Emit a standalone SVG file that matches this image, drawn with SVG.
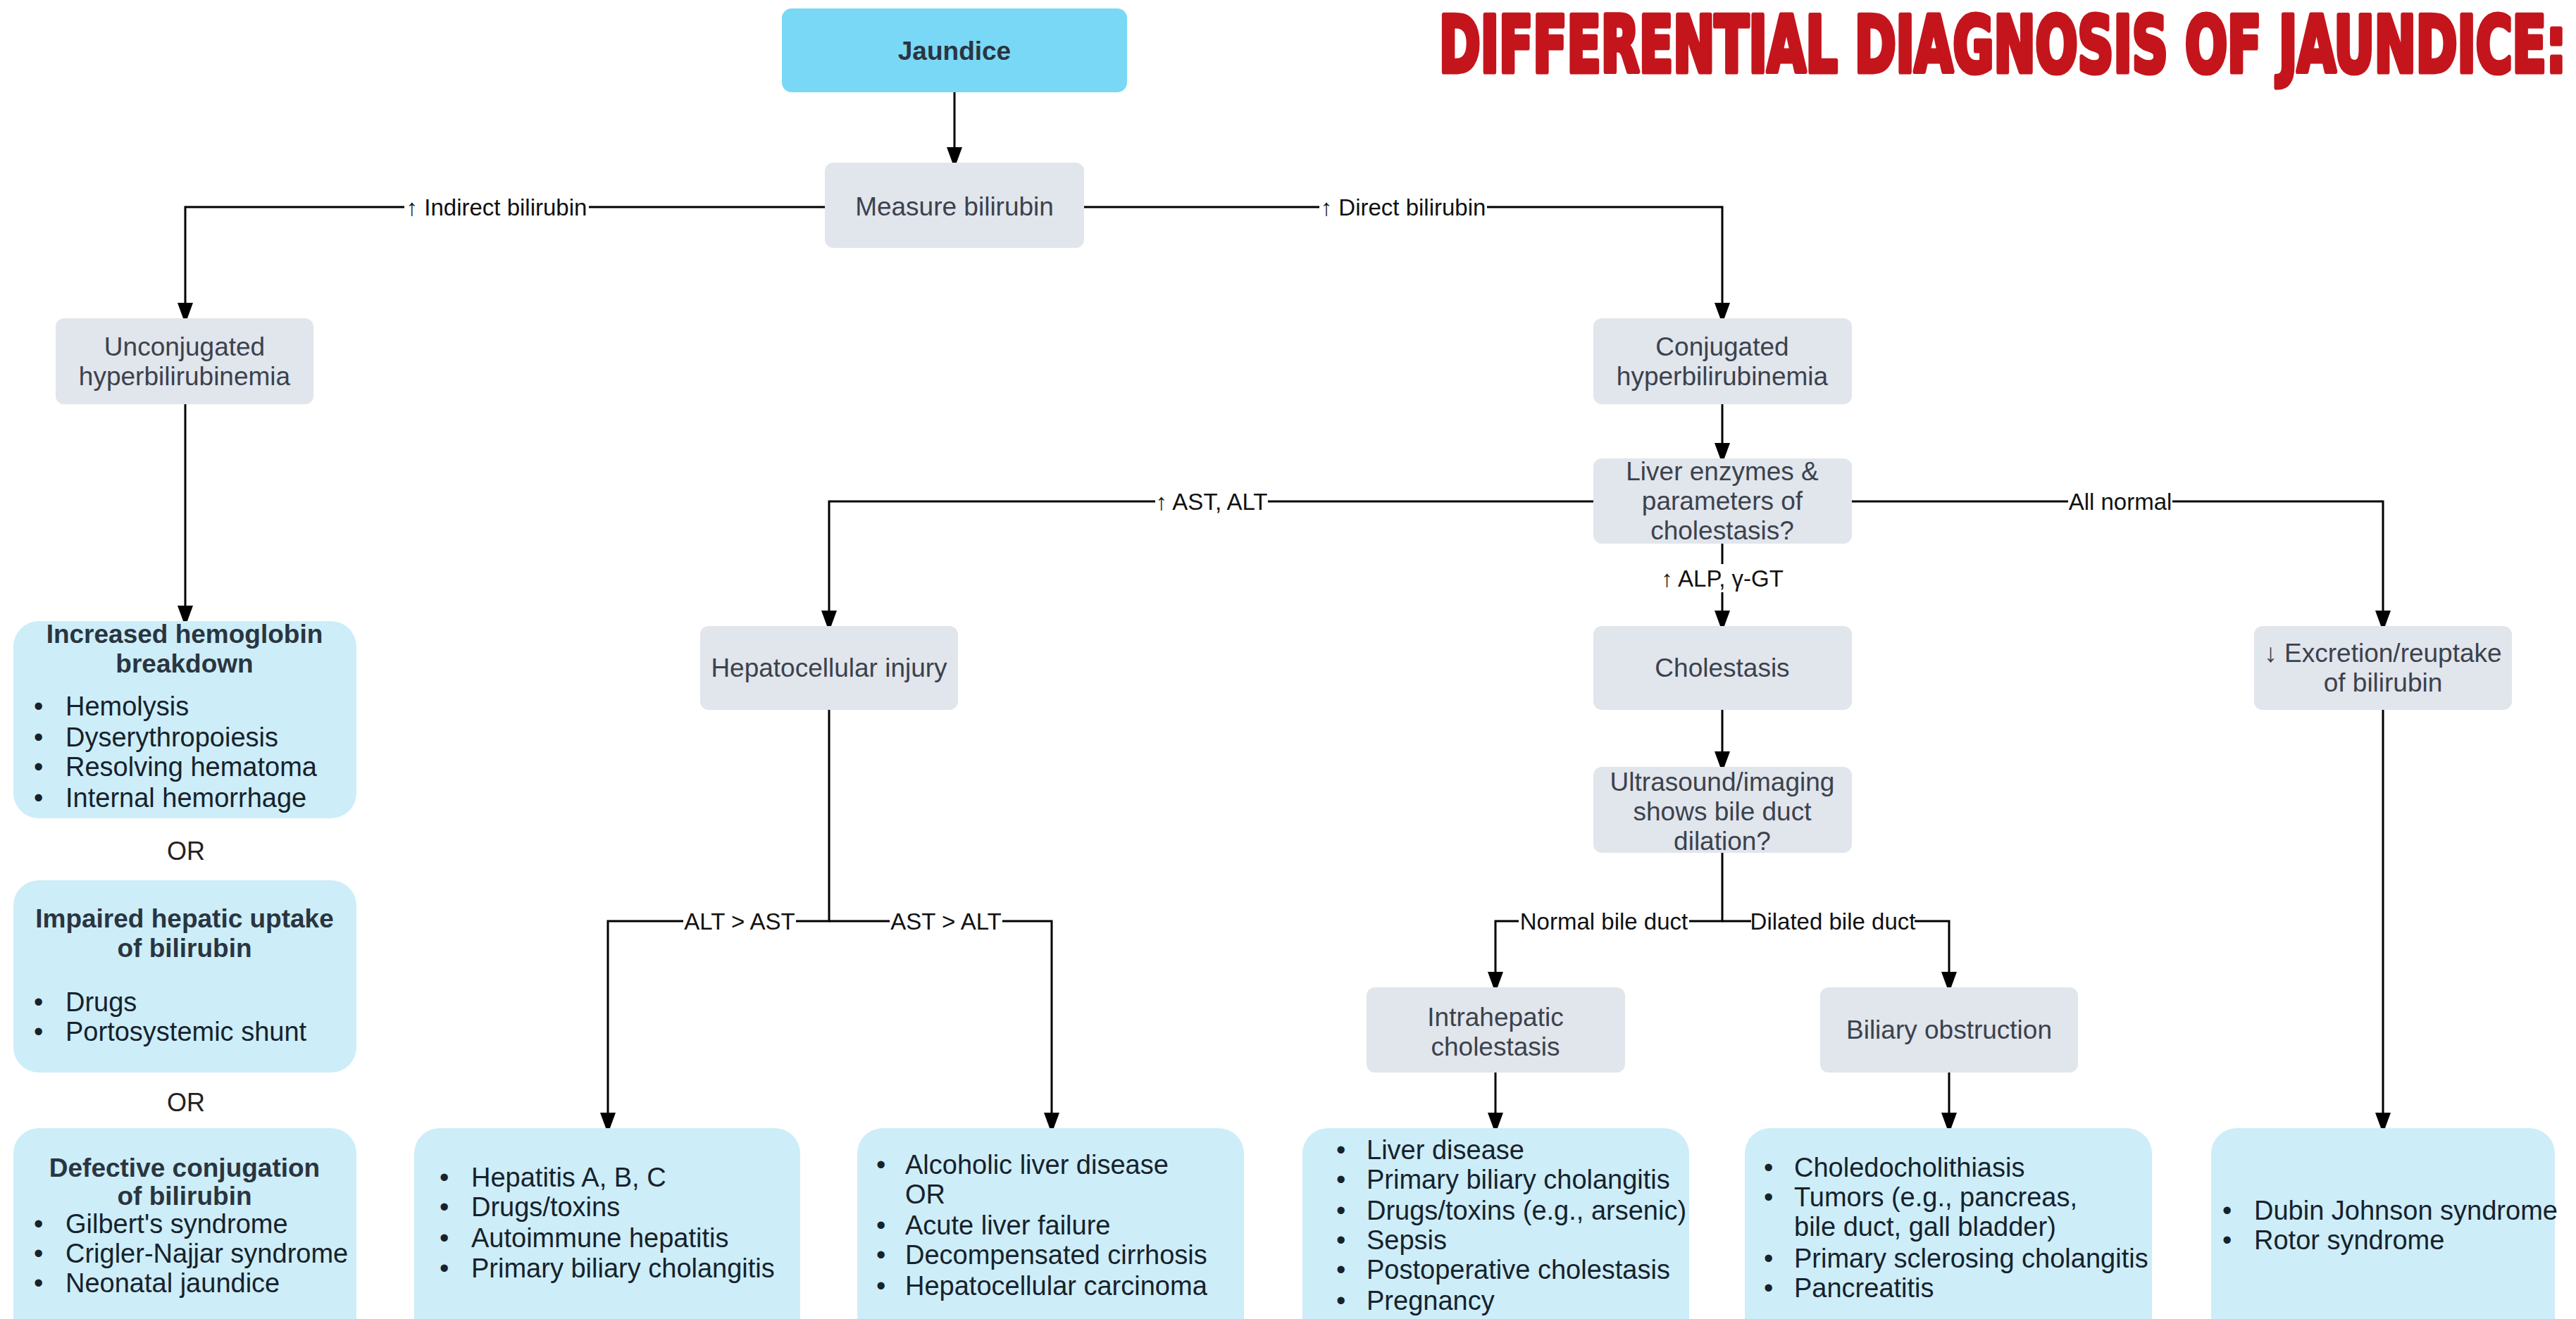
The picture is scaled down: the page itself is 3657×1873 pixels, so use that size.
<svg xmlns="http://www.w3.org/2000/svg" width="3657" height="1873" viewBox="0 0 3657 1873">
<defs>
<marker id="arr" viewBox="0 0 22 30" refX="22" refY="11" markerWidth="22" markerHeight="30" markerUnits="userSpaceOnUse" orient="auto">
<path d="M0,0 L30,11 L0,22 Z" fill="#000"/>
</marker>
<style>
.gray{fill:#E1E5EC}
.cyan{fill:#79D8F5}
.lb{fill:#CDEDF8}
.t{font-family:"Liberation Sans",Arial,sans-serif;font-size:37px;fill:#3B424C;text-anchor:middle}
.tb{font-family:"Liberation Sans",Arial,sans-serif;font-size:37px;font-weight:bold;fill:#2A3540;text-anchor:middle}
.li{font-family:"Liberation Sans",Arial,sans-serif;font-size:38px;fill:#16222C}
.lbl{font-family:"Liberation Sans",Arial,sans-serif;font-size:33px;fill:#111;text-anchor:middle}
.or{font-family:"Liberation Sans",Arial,sans-serif;font-size:36px;fill:#222;text-anchor:middle}
.ln{fill:none;stroke:#000;stroke-width:3}
.bg{fill:#fff}
</style>
</defs>
<rect width="3657" height="1873" fill="#fff"/>
<text transform="translate(2043,102) scale(1,1.444)" x="0" y="0" textLength="1600" lengthAdjust="spacingAndGlyphs" font-family="'DejaVu Sans Condensed','DejaVu Sans',sans-serif" font-weight="bold" font-size="76" fill="#C4151C" stroke="#C4151C" stroke-width="5" stroke-linejoin="round">DIFFERENTIAL DIAGNOSIS OF JAUNDICE:</text>

<g id="connectors">
<path class="ln" d="M1355 131 V231" marker-end="url(#arr)"/>
<path class="ln" d="M1171 294 H263 V452" marker-end="url(#arr)"/>
<path class="ln" d="M1539 294 H2445 V452" marker-end="url(#arr)"/>
<path class="ln" d="M263 574 V882" marker-end="url(#arr)"/>
<path class="ln" d="M2445 574 V651" marker-end="url(#arr)"/>
<path class="ln" d="M2262 712 H1177 V889" marker-end="url(#arr)"/>
<path class="ln" d="M2629 712 H3383 V889" marker-end="url(#arr)"/>
<path class="ln" d="M2445 772 V889" marker-end="url(#arr)"/>
<path class="ln" d="M2445 1008 V1089" marker-end="url(#arr)"/>
<path class="ln" d="M2445 1211 V1308 H2123 V1402" marker-end="url(#arr)"/>
<path class="ln" d="M2445 1308 H2767 V1402" marker-end="url(#arr)"/>
<path class="ln" d="M1177 1008 V1308 H863 V1602" marker-end="url(#arr)"/>
<path class="ln" d="M1177 1308 H1493 V1602" marker-end="url(#arr)"/>
<path class="ln" d="M2123 1523 V1602" marker-end="url(#arr)"/>
<path class="ln" d="M2767 1523 V1602" marker-end="url(#arr)"/>
<path class="ln" d="M3383 1008 V1602" marker-end="url(#arr)"/>
<rect class="bg" x="574" y="276" width="262" height="36"/>
<text class="lbl" x="705" y="306">↑ Indirect bilirubin</text>
<rect class="bg" x="1873" y="276" width="238" height="36"/>
<text class="lbl" x="1992" y="306">↑ Direct bilirubin</text>
<rect class="bg" x="1640" y="694" width="160" height="36"/>
<text class="lbl" x="1720" y="724">↑ AST, ALT</text>
<rect class="bg" x="2936" y="694" width="148" height="36"/>
<text class="lbl" x="3010" y="724">All normal</text>
<rect class="bg" x="2352" y="801" width="186" height="40"/>
<text class="lbl" x="2445" y="833">↑ ALP, γ-GT</text>
<rect class="bg" x="970" y="1290" width="160" height="36"/>
<text class="lbl" x="1050" y="1320">ALT &gt; AST</text>
<rect class="bg" x="1263" y="1290" width="160" height="36"/>
<text class="lbl" x="1343" y="1320">AST &gt; ALT</text>
<rect class="bg" x="2156" y="1290" width="242" height="36"/>
<text class="lbl" x="2277" y="1320">Normal bile duct</text>
<rect class="bg" x="2486" y="1290" width="232" height="36"/>
<text class="lbl" x="2602" y="1320">Dilated bile duct</text>
</g>

<g id="jaundice"><rect class="cyan" x="1110" y="12" width="490" height="119" rx="14"/><text class="tb" x="1355" y="85">Jaundice</text></g>
<g id="measure"><rect class="gray" x="1171" y="231" width="368" height="121" rx="12"/><text class="t" x="1355" y="306">Measure bilirubin</text></g>
<g id="unconjugated"><rect class="gray" x="79" y="452" width="366" height="122" rx="12"/><text class="t" x="262" y="505">Unconjugated</text><text class="t" x="262" y="547">hyperbilirubinemia</text></g>
<g id="conjugated"><rect class="gray" x="2262" y="452" width="367" height="122" rx="12"/><text class="t" x="2445" y="505">Conjugated</text><text class="t" x="2445" y="547">hyperbilirubinemia</text></g>
<g id="liver"><rect class="gray" x="2262" y="651" width="367" height="121" rx="12"/><text class="t" x="2445" y="682">Liver enzymes &amp;</text><text class="t" x="2445" y="724">parameters of</text><text class="t" x="2445" y="766">cholestasis?</text></g>
<g id="hepatocellular"><rect class="gray" x="994" y="889" width="366" height="119" rx="12"/><text class="t" x="1177" y="961">Hepatocellular injury</text></g>
<g id="cholestasis"><rect class="gray" x="2262" y="889" width="367" height="119" rx="12"/><text class="t" x="2445" y="961">Cholestasis</text></g>
<g id="excretion"><rect class="gray" x="3200" y="889" width="366" height="119" rx="12"/><text class="t" x="3383" y="940">↓ Excretion/reuptake</text><text class="t" x="3383" y="982">of bilirubin</text></g>
<g id="ultrasound"><rect class="gray" x="2262" y="1089" width="367" height="122" rx="12"/><text class="t" x="2445" y="1123">Ultrasound/imaging</text><text class="t" x="2445" y="1165">shows bile duct</text><text class="t" x="2445" y="1207">dilation?</text></g>
<g id="intrahepatic"><rect class="gray" x="1940" y="1402" width="367" height="121" rx="12"/><text class="t" x="2123" y="1457">Intrahepatic</text><text class="t" x="2123" y="1499">cholestasis</text></g>
<g id="biliary"><rect class="gray" x="2584" y="1402" width="366" height="121" rx="12"/><text class="t" x="2767" y="1475">Biliary obstruction</text></g>

<g id="increased"><rect class="lb" x="19" y="882" width="487" height="280" rx="36"/>
<text class="tb" x="262" y="913">Increased hemoglobin</text><text class="tb" x="262" y="955">breakdown</text>
<text class="li" x="48" y="1016">•</text><text class="li" x="93" y="1016">Hemolysis</text>
<text class="li" x="48" y="1060">•</text><text class="li" x="93" y="1060">Dyserythropoiesis</text>
<text class="li" x="48" y="1102">•</text><text class="li" x="93" y="1102">Resolving hematoma</text>
<text class="li" x="48" y="1146">•</text><text class="li" x="93" y="1146">Internal hemorrhage</text>
</g>
<text class="or" x="264" y="1221">OR</text>
<g id="impaired"><rect class="lb" x="19" y="1250" width="487" height="273" rx="36"/>
<text class="tb" x="262" y="1317">Impaired hepatic uptake</text><text class="tb" x="262" y="1359">of bilirubin</text>
<text class="li" x="48" y="1436">•</text><text class="li" x="93" y="1436">Drugs</text>
<text class="li" x="48" y="1478">•</text><text class="li" x="93" y="1478">Portosystemic shunt</text>
</g>
<text class="or" x="264" y="1578">OR</text>
<g id="defective"><rect class="lb" x="19" y="1602" width="487" height="310" rx="36"/>
<text class="tb" x="262" y="1671">Defective conjugation</text><text class="tb" x="262" y="1711">of bilirubin</text>
<text class="li" x="48" y="1751">•</text><text class="li" x="93" y="1751">Gilbert's syndrome</text>
<text class="li" x="48" y="1793">•</text><text class="li" x="93" y="1793">Crigler-Najjar syndrome</text>
<text class="li" x="48" y="1835">•</text><text class="li" x="93" y="1835">Neonatal jaundice</text>
</g>
<g id="hepatitis-list"><rect class="lb" x="588" y="1602" width="548" height="310" rx="36"/>
<text class="li" x="624" y="1685">•</text><text class="li" x="669" y="1685">Hepatitis A, B, C</text>
<text class="li" x="624" y="1727">•</text><text class="li" x="669" y="1727">Drugs/toxins</text>
<text class="li" x="624" y="1771">•</text><text class="li" x="669" y="1771">Autoimmune hepatitis</text>
<text class="li" x="624" y="1814">•</text><text class="li" x="669" y="1814">Primary biliary cholangitis</text>
</g>
<g id="alcoholic-list"><rect class="lb" x="1217" y="1602" width="549" height="310" rx="36"/>
<text class="li" x="1244" y="1667">•</text><text class="li" x="1285" y="1667">Alcoholic liver disease</text>
<text class="li" x="1285" y="1709">OR</text>
<text class="li" x="1244" y="1753">•</text><text class="li" x="1285" y="1753">Acute liver failure</text>
<text class="li" x="1244" y="1795">•</text><text class="li" x="1285" y="1795">Decompensated cirrhosis</text>
<text class="li" x="1244" y="1839">•</text><text class="li" x="1285" y="1839">Hepatocellular carcinoma</text>
</g>
<g id="intrahepatic-list"><rect class="lb" x="1849" y="1602" width="549" height="310" rx="36"/>
<text class="li" x="1897" y="1646">•</text><text class="li" x="1940" y="1646">Liver disease</text>
<text class="li" x="1897" y="1688">•</text><text class="li" x="1940" y="1688">Primary biliary cholangitis</text>
<text class="li" x="1897" y="1732">•</text><text class="li" x="1940" y="1732">Drugs/toxins (e.g., arsenic)</text>
<text class="li" x="1897" y="1774">•</text><text class="li" x="1940" y="1774">Sepsis</text>
<text class="li" x="1897" y="1816">•</text><text class="li" x="1940" y="1816">Postoperative cholestasis</text>
<text class="li" x="1897" y="1860">•</text><text class="li" x="1940" y="1860">Pregnancy</text>
</g>
<g id="biliary-list"><rect class="lb" x="2477" y="1602" width="578" height="310" rx="36"/>
<text class="li" x="2504" y="1671">•</text><text class="li" x="2547" y="1671">Choledocholithiasis</text>
<text class="li" x="2504" y="1713">•</text><text class="li" x="2547" y="1713">Tumors (e.g., pancreas,</text>
<text class="li" x="2547" y="1755">bile duct, gall bladder)</text>
<text class="li" x="2504" y="1800">•</text><text class="li" x="2547" y="1800">Primary sclerosing cholangitis</text>
<text class="li" x="2504" y="1842">•</text><text class="li" x="2547" y="1842">Pancreatitis</text>
</g>
<g id="excretion-list"><rect class="lb" x="3139" y="1602" width="488" height="310" rx="36"/>
<text class="li" x="3155" y="1732">•</text><text class="li" x="3200" y="1732">Dubin Johnson syndrome</text>
<text class="li" x="3155" y="1774">•</text><text class="li" x="3200" y="1774">Rotor syndrome</text>
</g>
</svg>
